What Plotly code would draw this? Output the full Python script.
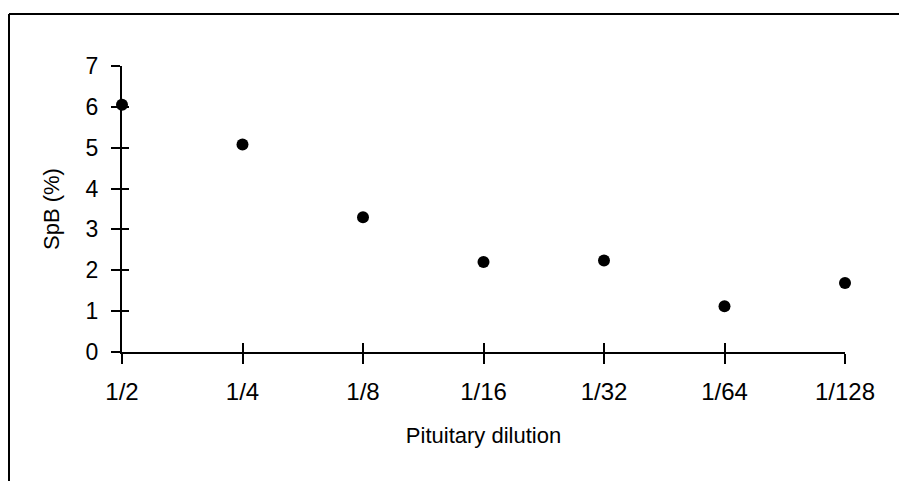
import plotly.graph_objects as go

categories = ["1/2", "1/4", "1/8", "1/16", "1/32", "1/64", "1/128"]
positions = [0, 1, 2, 3, 4, 5, 6]
spb = [6.05, 5.08, 3.3, 2.2, 2.24, 1.12, 1.69]
y_ticks = [0, 1, 2, 3, 4, 5, 6, 7]

FONT = "Liberation Sans, Arial, sans-serif"
W, H = 899, 481
L, R, T, B = 122, 54, 66, 129

fig = go.Figure()
fig.add_trace(go.Scatter(
    x=positions, y=spb, mode="markers",
    marker=dict(symbol="circle", size=12, color="black"),
    cliponaxis=False, showlegend=False, hoverinfo="skip",
))
# invisible trace to carry the inside half of the cross ticks
fig.add_trace(go.Scatter(
    x=positions, y=spb, mode="markers", xaxis="x2", yaxis="y2",
    marker=dict(size=1, opacity=0), showlegend=False, hoverinfo="skip",
))

fig.update_layout(
    width=W, height=H,
    margin=dict(l=L, r=R, t=T, b=B),
    paper_bgcolor="white", plot_bgcolor="white",
    font=dict(family=FONT, size=22, color="black"),
    xaxis=dict(
        range=[0, 6], tickvals=positions, ticktext=categories,
        ticks="outside", ticklen=10, tickcolor="black", tickwidth=2,
        tickfont=dict(family=FONT, size=24, color="black"),
        showgrid=False, zeroline=False,
        showline=True, linecolor="black", linewidth=2,
        ticklabelstandoff=7,
        title=dict(text="Pituitary dilution", standoff=24, font=dict(family=FONT, size=22)),
    ),
    yaxis=dict(
        range=[0, 7], tickvals=y_ticks,
        ticks="outside", ticklen=9, tickcolor="black", tickwidth=2,
        tickfont=dict(family=FONT, size=23, color="black"),
        showgrid=False, zeroline=False,
        showline=True, linecolor="black", linewidth=2,
        ticklabelstandoff=8,
        title=dict(text="SpB (%)", standoff=20, font=dict(family=FONT, size=22)),
    ),
    xaxis2=dict(
        overlaying="x", anchor="y2", side="bottom", range=[0, 6], tickvals=positions,
        ticks="inside", ticklen=9, tickcolor="black", tickwidth=2,
        showticklabels=False, showgrid=False, zeroline=False, showline=False,
    ),
    yaxis2=dict(
        overlaying="y", anchor="x2", side="left", range=[0, 7], tickvals=y_ticks,
        ticks="inside", ticklen=7, tickcolor="black", tickwidth=2,
        showticklabels=False, showgrid=False, zeroline=False, showline=False,
    ),
)

# outer frame (left and top edges)
pw, ph = W - L - R, H - T - B
x_left = (9 - L) / pw
x_right = (W - L) / pw
y_top = (H - B - 14) / ph
y_bottom = (H - B - H - 5) / ph
fig.add_shape(type="line", xref="paper", yref="paper", x0=x_left, x1=x_left, y0=y_bottom, y1=y_top,
              line=dict(color="black", width=2))
fig.add_shape(type="line", xref="paper", yref="paper", x0=x_left, x1=x_right, y0=y_top, y1=y_top,
              line=dict(color="black", width=2))

fig.write_html("out.html")
